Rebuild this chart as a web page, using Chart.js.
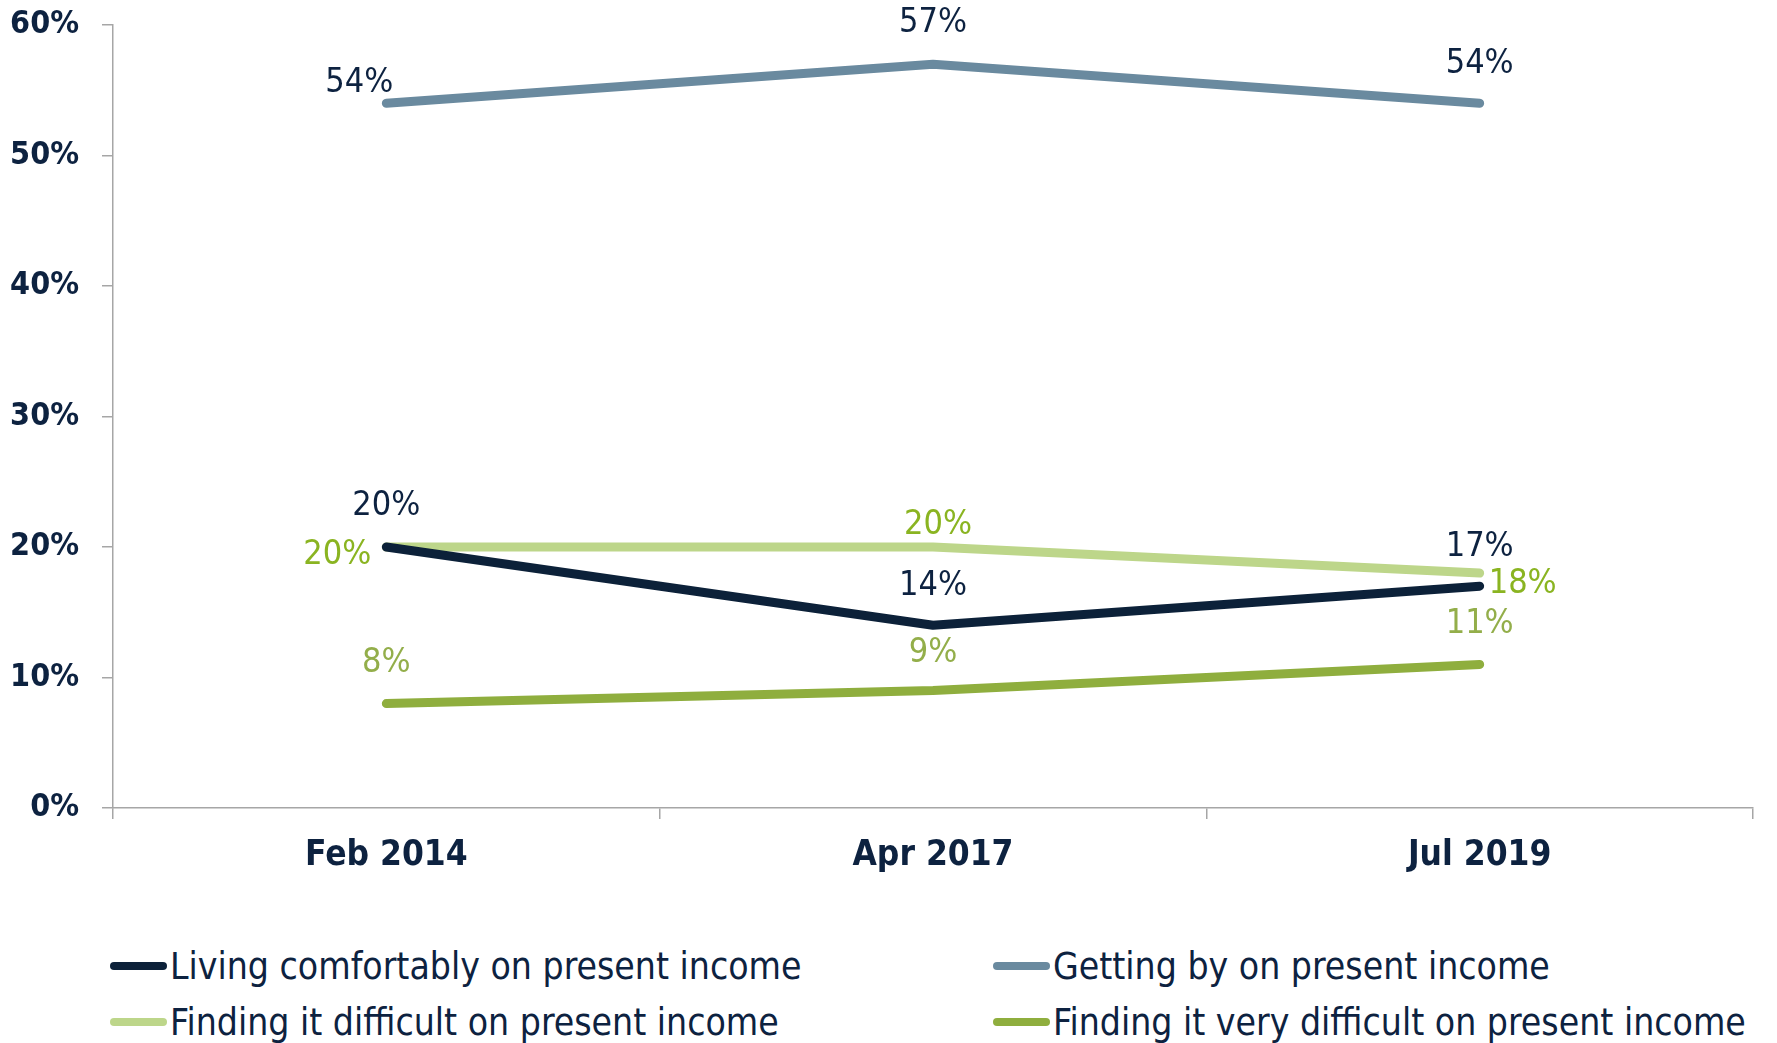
<!DOCTYPE html>
<html>
<head>
<meta charset="utf-8">
<script src="https://cdn.jsdelivr.net/npm/chart.js@4/dist/chart.umd.min.js"></script>
<style>
  html, body { margin: 0; padding: 0; background: #fff; }
  body { width: 1777px; height: 1043px; position: relative; overflow: hidden; }
  #wrap { position: absolute; left: 0; top: 0; width: 1777px; height: 880px; }
  #legend {
    position: absolute; left: 110px; top: 938px;
    display: grid; grid-template-columns: 883px auto; grid-auto-rows: 56px;
    font-family: "DejaVu Sans Condensed", "DejaVu Sans", sans-serif;
    font-size: 37px; color: #0d2240;
  }
  .item { display: flex; align-items: center; white-space: nowrap; }
  .mark { width: 57px; height: 8px; border-radius: 4px; margin-right: 3px; flex: none; }
</style>
</head>
<body>
<div id="wrap"><canvas id="chart"></canvas></div>
<div id="legend"></div>
<script>
// survey waves and values (%)
const waves = ['Feb 2014', 'Apr 2017', 'Jul 2019'];
const livingComfortably = [20, 14, 17];
const gettingBy = [54, 57, 54];
const findingDifficult = [20, 20, 18];
const findingVeryDifficult = [8, 9, 11];
const yTicks = [0, 10, 20, 30, 40, 50, 60];

const navy = '#0d2240';

// where each value label sits relative to its point (dx, dy in px)
const labelOffsets = [
  [[0, -41], [0, -39], [0, -39]],
  [[-27, -20], [0, -41], [0, -39]],
  [[-49, 8], [5, -22], [43, 11]],
  [[0, -40], [0, -37], [0, -40]]
];

const series = [
  { label: 'Living comfortably on present income', data: livingComfortably, color: '#0c2139', text: navy },
  { label: 'Getting by on present income', data: gettingBy, color: '#6a8a9f', text: navy },
  { label: 'Finding it difficult on present income', data: findingDifficult, color: '#bdd68a', text: '#8ab421' },
  { label: 'Finding it very difficult on present income', data: findingVeryDifficult, color: '#8fae3e', text: '#93ae4a' }
];

const valueLabels = {
  id: 'valueLabels',
  afterDatasetsDraw(chart){
    const ctx = chart.ctx;
    ctx.save();
    ctx.font = '34px "DejaVu Sans Condensed", sans-serif';
    ctx.textAlign = 'center';
    ctx.textBaseline = 'middle';
    chart.data.datasets.forEach((ds, i) => {
      const meta = chart.getDatasetMeta(i);
      meta.data.forEach((pt, j) => {
        const off = labelOffsets[i][j];
        ctx.fillStyle = series[i].text;
        ctx.fillText(ds.data[j] + '%', pt.x + off[0], pt.y + off[1]);
      });
    });
    ctx.restore();
  }
};

const fontFam = '"DejaVu Sans Condensed", "DejaVu Sans", sans-serif';
const axisGrey = '#a6a6a6';

new Chart(document.getElementById('chart'), {
  type: 'line',
  data: {
    labels: waves,
    datasets: series.map(s => ({
      label: s.label,
      data: s.data,
      borderColor: s.color,
      backgroundColor: s.color,
      borderWidth: 9,
      borderCapStyle: 'round',
      borderJoinStyle: 'round',
      pointRadius: 0,
      tension: 0
    }))
  },
  options: {
    responsive: true,
    maintainAspectRatio: false,
    animation: false,
    layout: { padding: { top: 25, right: 24, left: 0, bottom: 0 } },
    plugins: { legend: { display: false }, tooltip: { enabled: false } },
    scales: {
      x: {
        offset: true,
        grid: { offset: true, drawOnChartArea: false, drawTicks: true, tickLength: 11, color: axisGrey, lineWidth: 1.5 },
        border: { display: true, color: axisGrey, width: 1.5 },
        ticks: { color: navy, font: { family: fontFam, size: 35, weight: 'bold' }, padding: 16, maxRotation: 0 },
        afterFit: s => { s.height = 72; s.paddingLeft = 0; s.paddingRight = 0; }
      },
      y: {
        min: 0, max: 60,
        afterBuildTicks: s => { s.ticks = yTicks.map(v => ({ value: v })); },
        grid: { drawOnChartArea: false, drawTicks: true, tickLength: 11, color: axisGrey, lineWidth: 1.5 },
        border: { display: true, color: axisGrey, width: 1.5 },
        ticks: { color: navy, font: { family: fontFam, size: 32, weight: 'bold' }, padding: 23, callback: v => v + '%' },
        afterFit: s => { s.width = 113; s.paddingTop = 0; s.paddingBottom = 0; }
      }
    }
  },
  plugins: [valueLabels]
});

// two-column legend under the chart
const legend = document.getElementById('legend');
series.forEach(s => {
  const item = document.createElement('div');
  item.className = 'item';
  const mark = document.createElement('span');
  mark.className = 'mark';
  mark.style.background = s.color;
  const txt = document.createElement('span');
  txt.textContent = s.label;
  item.appendChild(mark);
  item.appendChild(txt);
  legend.appendChild(item);
});
</script>
</body>
</html>
